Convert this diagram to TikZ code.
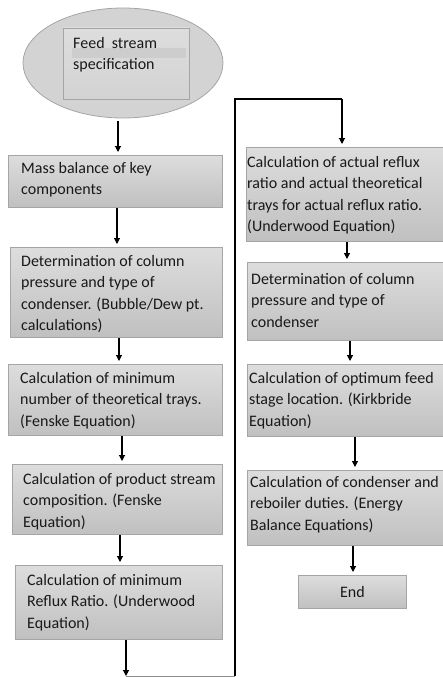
\documentclass[tikz,border=0pt]{standalone}
\usepackage{fontspec}
\setmainfont{Carlito}
\usetikzlibrary{arrows.meta,shapes.geometric}
\definecolor{boxtop}{RGB}{221,221,221}
\definecolor{boxbot}{RGB}{192,192,192}
\definecolor{boxline}{RGB}{165,165,165}
\definecolor{ellfill}{RGB}{211,211,211}
\definecolor{bandfill}{RGB}{205,205,205}
\definecolor{txt}{RGB}{25,25,25}
\begin{document}
\begin{tikzpicture}[x=1pt,y=-1pt,
  box/.style={draw=boxline, line width=0.8pt, top color=boxtop, bottom color=boxbot,
    inner sep=0pt, rectangle, anchor=north west},
  txtnode/.style={anchor=north west, inner sep=0pt, align=left, text=txt,
    font=\fontsize{16}{21.5}\selectfont},
  arr/.style={-{Triangle[length=6pt,width=6pt]}, line width=1.1pt, black, shorten >=3pt},
]
\useasboundingbox (0,0) rectangle (443,677);

% start ellipse
\node[draw=boxline, line width=0.8pt, fill=ellfill, ellipse, minimum width=200pt,
  minimum height=110pt, inner sep=0pt] (start) at (123,63) {};
\draw[draw=boxline, line width=0.8pt, top color=boxtop, bottom color=ellfill] (63,28) rectangle (189,99);
\fill[bandfill] (72,48) rectangle (186,58);
\node[txtnode] (t0) at (73,33) {\strut Feed\ \ stream\\specification};

% left column
\node[box, minimum width=214pt, minimum height=52pt] (l1) at (8,155) {};
\node[txtnode] (t1) at (21,158) {\strut Mass balance of key\\components};

\node[box, minimum width=212pt, minimum height=90pt] (l2) at (10,247) {};
\node[txtnode] (t2) at (21,251) {\strut Determination of column\\pressure and type of\\condenser. (Bubble/Dew pt.\\calculations)};

\node[box, minimum width=214pt, minimum height=71pt] (l3) at (8,364) {};
\node[txtnode] (t3) at (20,368) {\strut Calculation of minimum\\number of theoretical trays.\\(Fenske Equation)};

\node[box, minimum width=210pt, minimum height=70pt] (l4) at (12,464) {};
\node[txtnode] (t4) at (23,469) {\strut Calculation of product stream\\composition. (Fenske\\Equation)};

\node[box, minimum width=207pt, minimum height=74pt] (l5) at (15,565) {};
\node[txtnode] (t5) at (27,570) {\strut Calculation of minimum\\Reflux Ratio. (Underwood\\Equation)};

% right column
\node[box, minimum width=200pt, minimum height=94pt] (r1) at (246,147) {};
\node[txtnode] (u1) at (247,152) {\strut Calculation of actual reflux\\ratio and actual theoretical\\trays for actual reflux ratio.\\(Underwood Equation)};

\node[box, minimum width=199pt, minimum height=78pt] (r2) at (247,262) {};
\node[txtnode] (u2) at (251,269) {\strut Determination of column\\pressure and type of\\condenser};

\node[box, minimum width=199pt, minimum height=72pt] (r3) at (247,364) {};
\node[txtnode] (u3) at (249,368) {\strut Calculation of optimum feed\\stage location. (Kirkbride\\Equation)};

\node[box, minimum width=199pt, minimum height=75pt] (r4) at (247,470) {};
\node[txtnode] (u4) at (250,472) {\strut Calculation of condenser and\\reboiler duties. (Energy\\Balance Equations)};

\node[box, minimum width=108pt, minimum height=33pt, text=txt,
  font=\fontsize{16}{21.5}\selectfont] (r5) at (298,575) {End};

% connector coordinates
\coordinate (xa) at (118,0);
\coordinate (xb) at (117,0);
\coordinate (xc) at (119,0);
\coordinate (xd) at (122,0);
\coordinate (xe) at (120,0);
\coordinate (b1) at (126,676);
\coordinate (b2) at (235,676);
\coordinate (c1) at (235,99);
\coordinate (c2) at (342,99);
\coordinate (ya) at (347,0);
\coordinate (yb) at (350,0);
\coordinate (yc) at (355,0);
\coordinate (yd) at (353,0);

\draw[arr, shorten <=3pt] (start.south -| xa) -- (l1.north -| xa);
\draw[arr] (l1.south -| xb) -- (l2.north -| xb);
\draw[arr] (l2.south -| xc) -- (l3.north -| xc);
\draw[arr] (l3.south -| xd) -- (l4.north -| xd);
\draw[arr] (l4.south -| xe) -- (l5.north -| xe);
\draw[arr, shorten >=0pt] (l5.south -| b1) -- (b1);
\draw[line width=0.6pt, black!45] (b1) -- (b2);
\draw[line width=1.1pt, black] (b2) -- (c1) -- (c2);
\draw[arr] (c2) -- (r1.north -| c2);
\draw[arr] (r1.south -| ya) -- (r2.north -| ya);
\draw[arr] (r2.south -| yb) -- (r3.north -| yb);
\draw[arr] (r3.south -| yc) -- (r4.north -| yc);
\draw[arr] (r4.south -| yd) -- (r5.north -| yd);
\end{tikzpicture}
\end{document}
